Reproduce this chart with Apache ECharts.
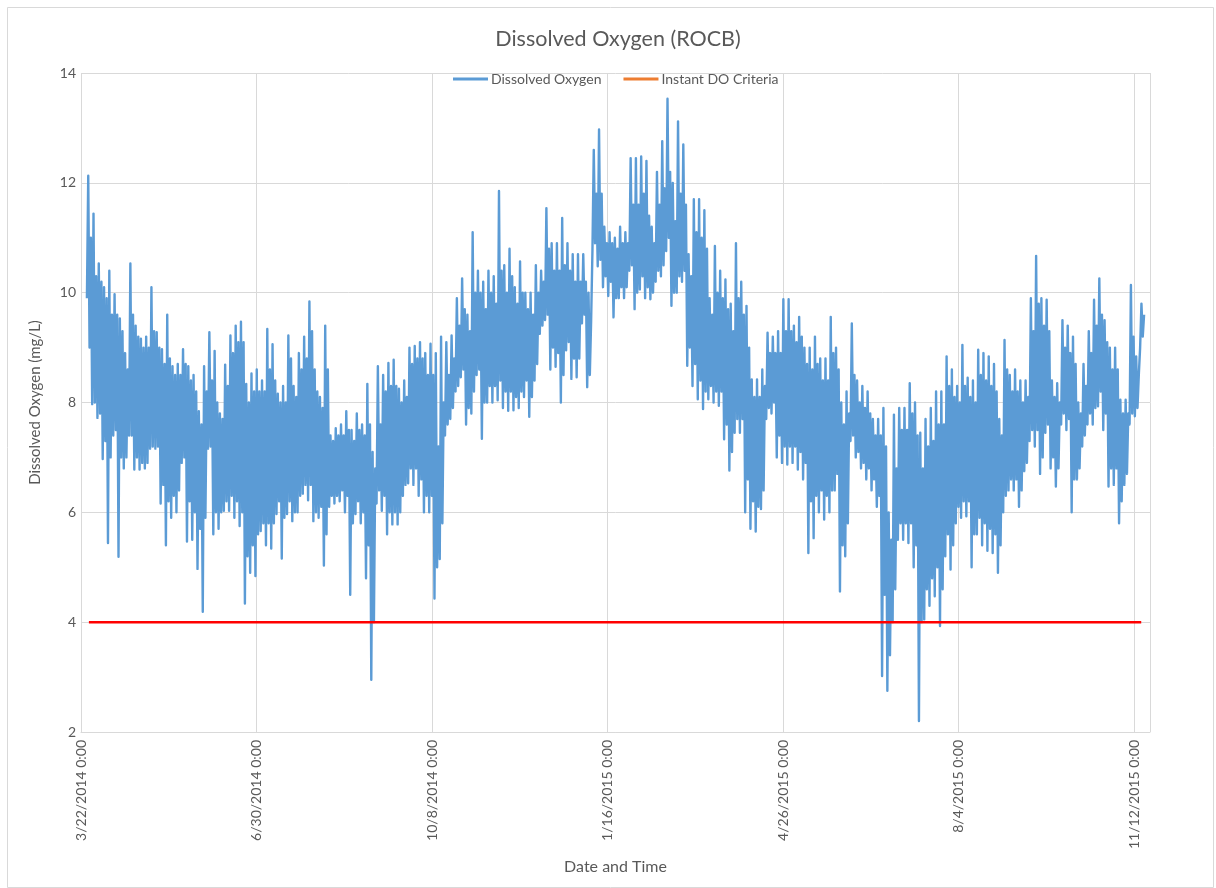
<!DOCTYPE html>
<html>
<head>
<meta charset="utf-8">
<script src="https://cdn.jsdelivr.net/npm/echarts@6/dist/echarts.min.js"></script>
<style>html,body{margin:0;padding:0;background:#fff;}#chart{width:1216px;height:888px;}</style>
</head>
<body>
<div id="chart"></div>
<script>
// Day 0 = 3/22/2014 0:00. X tick labels every 100 days.
const tickLabels = ['3/22/2014 0:00','6/30/2014 0:00','10/8/2014 0:00','1/16/2015 0:00','4/26/2015 0:00','8/4/2015 0:00','11/12/2015 0:00'];
const axisMaxDay = 609;
// Dissolved oxygen read in 3-day blocks starting at day 3:
// hi/lo = extreme daily swing in the block, mHi/mLo = typical daily swing in the block
const startDay = 3;
const blockDays = 3;
const hi = [12.13,11.44,10.53,10.1,10.4,9.97,9.53,8.9,10.53,9.4,
9.16,9.2,10.1,9.28,8.97,9.6,8.66,8.7,8.97,8.66,
8.5,7.84,8.66,9.28,8.94,7.8,8.69,9.22,9.4,9.47,
8.34,8.53,8.6,8.4,9.34,9.06,8.16,8.3,9.22,8.3,
8.9,9.2,9.84,8.6,8.1,9.4,7.4,7.53,7.6,7.84,
7.5,7.8,7.6,8.34,7.1,8.66,8.5,8.72,8.78,8.25,
8.4,9.0,9.03,9.1,8.9,9.07,8.9,9.2,9.1,9.22,
9.9,10.26,9.6,11.1,10.4,10.2,10.4,10.3,11.85,10.5,
10.8,10.1,10.57,10.0,10.0,10.5,10.4,11.54,10.9,10.9,
11.36,10.9,10.7,10.7,10.7,10.0,12.6,12.97,11.2,11.1,
11.0,11.2,11.1,12.45,12.45,12.48,12.4,11.2,12.2,12.76,
13.53,12.0,13.12,12.7,10.7,11.7,11.7,11.5,9.9,10.85,
10.4,10.24,9.8,10.9,10.2,9.76,8.42,8.42,8.6,9.27,
9.2,9.3,9.88,9.88,9.4,9.56,9.0,9.0,9.2,8.8,
8.8,9.56,9.0,8.0,8.2,9.44,8.4,8.3,8.2,7.7,
7.7,7.9,6.0,7.78,7.9,7.9,8.35,8.0,7.45,7.7,
7.9,8.2,8.2,8.84,8.6,8.3,9.05,8.45,8.4,8.96,
8.9,8.84,8.7,7.7,9.14,8.5,8.6,8.4,8.4,9.9,
10.67,9.9,9.87,8.4,8.35,9.5,9.4,9.2,8.0,8.7,
9.3,9.87,10.26,9.5,9.0,9.0,8.05,8.05,10.14,8.84,
9.8];
const lo = [9.9,7.97,7.72,6.97,5.44,7.4,5.19,6.8,7.4,6.78,
6.78,6.8,7.16,7.16,6.16,5.4,5.9,6.0,6.9,5.47,
5.5,4.97,4.19,7.16,5.6,5.7,6.03,6.03,5.9,5.75,
4.34,4.9,4.84,5.66,5.4,5.34,5.97,5.16,5.97,5.84,
6.0,6.34,6.22,5.84,5.9,5.03,6.1,6.16,6.2,6.0,
4.5,5.97,5.8,4.8,2.95,6.16,6.03,5.6,5.78,5.78,
6.3,6.53,6.5,6.3,6.0,6.0,4.43,5.15,7.4,7.7,
8.2,8.46,7.6,7.8,8.5,7.34,8.0,8.0,8.04,7.9,
7.85,7.86,7.9,8.1,7.74,8.4,9.25,9.5,8.6,8.65,
8.0,8.95,8.43,8.46,9.44,8.28,10.78,10.48,10.1,9.94,
9.55,9.9,9.9,10.4,9.7,10.06,9.9,9.88,10.2,10.3,
10.76,9.76,10.0,10.2,8.67,8.3,8.06,7.88,8.06,8.0,
7.94,7.33,6.76,7.45,7.45,6.0,5.7,5.65,6.06,7.7,
7.8,7.0,6.9,6.87,6.9,6.78,6.6,5.26,5.53,6.0,
5.87,6.0,6.4,4.56,5.2,7.3,7.0,6.8,6.6,6.4,
6.1,3.02,2.75,4.0,5.5,5.5,5.44,5.0,2.2,4.05,
4.3,4.47,3.93,5.2,4.96,5.8,5.9,5.93,5.0,5.6,
5.4,5.3,5.26,4.9,6.0,6.4,6.4,6.1,6.75,7.3,
7.2,6.7,7.45,6.8,6.47,7.6,7.5,6.0,6.6,7.2,
7.6,7.6,7.93,7.5,6.47,6.5,5.8,6.5,7.6,7.75,
9.0];
const mHi = [11.0,10.3,10.2,9.9,9.6,9.6,9.3,8.6,9.6,9.2,
9.0,9.0,9.3,9.0,8.7,8.8,8.5,8.5,8.7,8.4,
8.2,7.6,8.2,8.4,8.0,7.7,8.3,8.9,9.1,9.1,
8.0,8.2,8.2,8.2,8.6,8.4,8.0,8.0,8.8,8.1,
8.6,8.8,9.3,8.2,7.9,8.6,7.3,7.4,7.4,7.5,
7.3,7.5,7.4,7.6,6.8,7.6,8.2,8.3,8.3,8.0,
8.1,8.7,8.8,8.8,8.5,8.5,7.2,8.0,8.5,8.8,
9.4,9.7,9.3,10.0,10.0,9.7,10.0,9.8,10.4,10.0,
10.3,9.8,10.0,9.7,9.6,10.0,10.2,10.8,10.4,10.4,
10.5,10.4,10.2,10.2,10.2,9.5,11.8,11.8,10.9,10.9,
10.8,10.9,10.9,11.6,11.6,11.8,11.4,10.9,11.6,11.9,
12.2,11.3,11.8,11.6,10.3,11.1,11.0,10.8,9.6,10.0,
9.9,9.7,9.3,9.9,9.6,9.0,8.1,8.1,8.3,8.9,
8.9,8.9,9.3,9.3,9.1,9.2,8.7,8.6,8.7,8.4,
8.4,8.9,8.6,7.6,7.8,8.5,8.0,7.9,7.8,7.4,
7.4,7.2,5.5,6.8,7.5,7.5,7.8,7.4,6.8,7.2,
7.3,7.6,7.6,8.3,8.1,8.0,8.3,8.1,8.0,8.5,
8.4,8.3,8.2,7.4,8.6,8.2,8.2,8.0,8.1,9.3,
9.8,9.4,9.3,8.1,8.0,9.0,8.9,8.7,7.8,8.3,
8.9,9.4,9.6,9.1,8.6,8.6,7.8,7.8,9.2,8.5,
9.6];
const mLo = [9.0,8.0,7.8,7.3,7.0,7.5,7.0,7.0,7.4,7.0,
6.9,6.9,7.2,7.2,6.5,6.2,6.3,6.4,7.0,6.2,
6.0,5.7,5.9,7.2,6.0,6.0,6.2,6.3,6.2,6.0,
5.2,5.4,5.6,5.8,5.8,5.8,6.2,5.9,6.2,6.0,
6.3,6.5,6.5,6.0,6.1,5.6,6.3,6.3,6.4,6.3,
5.8,6.2,6.0,5.4,4.0,6.4,6.3,6.0,6.0,6.0,
6.5,6.8,6.8,6.6,6.3,6.3,5.0,5.8,7.6,7.9,
8.3,8.6,7.9,8.2,8.6,8.0,8.3,8.3,8.4,8.2,
8.2,8.1,8.2,8.4,8.1,8.7,9.4,9.6,9.0,8.9,
8.5,9.1,8.8,8.8,9.6,8.5,10.9,10.6,10.3,10.2,
9.9,10.1,10.1,10.5,10.0,10.3,10.1,10.0,10.4,10.5,
11.0,10.0,10.3,10.4,9.0,8.7,8.4,8.2,8.3,8.2,
8.2,7.6,7.1,7.7,7.7,6.6,6.2,6.1,6.4,7.9,
8.0,7.4,7.2,7.2,7.2,7.1,6.9,6.2,6.3,6.4,
6.3,6.4,6.7,5.4,5.8,7.4,7.1,6.9,6.8,6.6,
6.3,4.5,3.4,4.6,5.8,5.8,5.8,5.4,4.0,4.6,
4.8,5.0,4.6,5.6,5.4,6.1,6.2,6.2,5.6,5.9,
5.8,5.7,5.6,5.4,6.3,6.6,6.6,6.4,6.9,7.5,
7.5,7.0,7.6,7.0,6.8,7.8,7.7,6.6,6.8,7.4,
7.8,7.9,8.2,7.8,6.8,6.8,6.2,6.7,7.8,7.9,
9.2];
// Instant DO criteria line
const criteriaDays = [4.5, 604];
const criteriaValue = 4;

const doData = [];
for (let i = 0; i < hi.length; i++) {
  const d0 = startDay + i * blockDays;
  doData.push([d0 + 0.375, lo[i]]);
  doData.push([d0 + 1.125, hi[i]]);
  doData.push([d0 + 1.875, mLo[i]]);
  doData.push([d0 + 2.625, mHi[i]]);
}
const critData = criteriaDays.map(d => [d, criteriaValue]);

const FONT = 'Lato';
const GREY = '#595959';
const chart = echarts.init(document.getElementById('chart'), null, {renderer: 'canvas'});
chart.setOption({
  animation: false,
  backgroundColor: '#fff',
  textStyle: {fontFamily: FONT},
  title: {
    text: 'Dissolved Oxygen (ROCB)',
    left: 613, top: 23, textAlign: 'center',
    textStyle: {fontFamily: FONT, fontSize: 21.5, fontWeight: 'normal', color: GREY}
  },
  legend: {
    left: 448, top: 67,
    itemWidth: 35, itemHeight: 3, itemGap: 22,
    icon: 'rect',
    textStyle: {fontFamily: FONT, fontSize: 14, color: GREY, padding: [0,0,0,-2]},
    data: [
      {name: 'Dissolved Oxygen', itemStyle: {color: '#5B9BD5'}},
      {name: 'Instant DO Criteria', itemStyle: {color: '#ED7D31'}}
    ]
  },
  grid: {left: 81, right: 66, top: 73, bottom: 156, containLabel: false},
  xAxis: {
    type: 'value', min: 0, max: axisMaxDay, interval: 100,
    name: 'Date and Time', nameLocation: 'middle', nameGap: 127,
    nameTextStyle: {fontFamily: FONT, fontSize: 16, color: GREY},
    axisLine: {show: true, lineStyle: {color: '#d9d9d9', width: 1}},
    axisTick: {show: false},
    axisLabel: {
      rotate: 90, margin: 8, fontFamily: FONT, fontSize: 14, color: GREY,
      showMaxLabel: false,
      formatter: v => tickLabels[Math.round(v / 100)] || ''
    },
    splitLine: {show: true, lineStyle: {color: '#d9d9d9', width: 1}}
  },
  yAxis: {
    type: 'value', min: 2, max: 14, interval: 2,
    name: 'Dissolved Oxygen (mg/L)', nameLocation: 'middle', nameGap: 38, nameRotate: 90,
    nameTextStyle: {fontFamily: FONT, fontSize: 15, color: GREY},
    axisLine: {show: false}, axisTick: {show: false},
    axisLabel: {margin: 5, fontFamily: FONT, fontSize: 14, color: GREY},
    splitLine: {show: true, lineStyle: {color: '#d9d9d9', width: 1}}
  },
  series: [
    {
      name: 'Dissolved Oxygen', type: 'line', data: doData,
      showSymbol: false, symbol: 'none', sampling: null,
      itemStyle: {color: '#5B9BD5'},
      lineStyle: {color: '#5B9BD5', width: 2.4, join: 'round'},
      z: 2
    },
    {
      name: 'Instant DO Criteria', type: 'line', data: critData,
      showSymbol: false, symbol: 'none',
      itemStyle: {color: '#ED7D31'},
      lineStyle: {color: '#FF0000', width: 2.5},
      z: 3
    }
  ],
  graphic: [{
    type: 'rect', left: 5, top: 5, silent: true,
    shape: {width: 1206, height: 880},
    style: {fill: 'none', stroke: '#d9d9d9', lineWidth: 1}
  }]
});
</script>
</body>
</html>
